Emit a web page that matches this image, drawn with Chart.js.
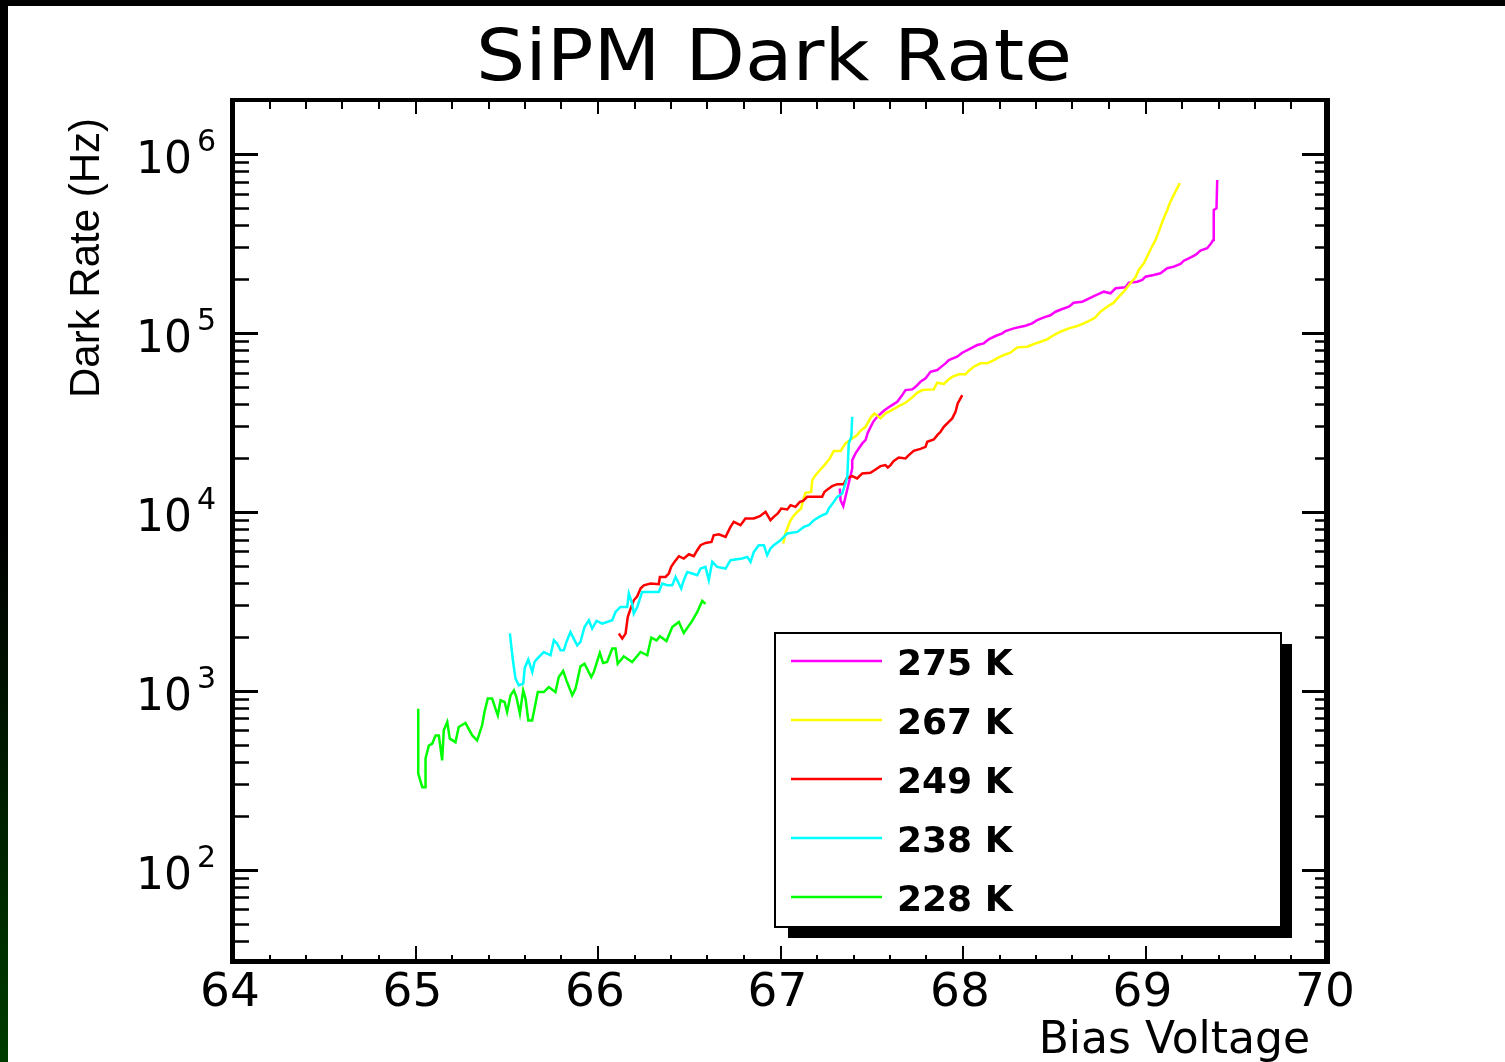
<!DOCTYPE html>
<html><head><meta charset="utf-8">
<script src="https://cdn.jsdelivr.net/npm/chart.js@4.4.1/dist/chart.umd.min.js"></script>
<style>html,body{margin:0;padding:0;background:#fff;overflow:hidden}canvas{display:block}</style>
</head><body>
<canvas id="c" width="1505" height="1062" style="width:1505px;height:1062px"></canvas>
<script>
// ---------------- data ----------------
const chartTitle = 'SiPM Dark Rate';
const xTitle = 'Bias Voltage';
const yTitle = 'Dark Rate (Hz)';
const seriesLabels = ['275 K', '267 K', '249 K', '238 K', '228 K'];
const seriesColors = ['#ff00ff', '#ffff00', '#ff0000', '#00ffff', '#00ff00'];
const xTickValues = [64, 65, 66, 67, 68, 69, 70];
const yTickValues = [1e2, 1e3, 1e4, 1e5, 1e6];
const xMin = 64, xMax = 70, yMin = 30.5, yMax = 2.0e6;

const v275 = [67.325,67.329,67.344,67.393,67.393,67.411,67.429,67.448,67.466,67.478,67.508,67.530,67.566,67.603,67.640,67.667,67.685,67.722,67.740,67.767,67.795,67.822,67.859,67.877,67.904,67.922,67.968,67.996,68.032,68.078,68.114,68.141,68.178,68.215,68.233,68.278,68.342,68.379,68.407,68.443,68.479,68.507,68.544,68.580,68.607,68.653,68.681,68.717,68.772,68.808,68.836,68.890,68.909,68.955,68.982,69.000,69.045,69.082,69.119,69.155,69.192,69.210,69.237,69.274,69.301,69.338,69.360,69.371,69.374,69.389,69.393];
const r275 = [13500,11610,10750,17470,19430,21190,22590,24100,25150,27620,31830,33950,36680,38960,41180,44890,47870,48310,49940,53280,55660,60600,61940,64140,67520,70460,73510,77400,80840,85460,87350,91980,95990,99360,102300,105960,109600,113000,117900,122100,125300,131200,135900,140000,147400,149300,154000,160600,169800,166300,177400,179700,190600,193100,197400,206000,210500,215200,229600,234300,242600,253100,261000,272300,287900,296900,316700,330400,486200,496900,715200];

const v267 = [67.015,67.027,67.051,67.070,67.092,67.113,67.124,67.137,67.168,67.174,67.192,67.219,67.241,67.270,67.292,67.329,67.356,67.393,67.420,67.438,67.466,67.497,67.515,67.548,67.575,67.603,67.648,67.685,67.722,67.749,67.777,67.840,67.859,67.895,67.913,67.941,67.977,68.014,68.032,68.059,68.096,68.133,68.169,68.196,68.224,68.260,68.297,68.352,68.388,68.425,68.461,68.498,68.534,68.580,68.626,68.662,68.699,68.726,68.753,68.790,68.826,68.854,68.881,68.909,68.945,68.963,68.991,69.013,69.031,69.055,69.073,69.086,69.100,69.119,69.137,69.155,69.174,69.188];
const r267 = [6648,7560,8782,9450,9989,10430,11610,12760,12920,15030,16020,17240,18230,19870,21830,21830,24100,25700,26820,28350,29840,33950,35470,33250,35470,36680,38960,40650,43580,46240,47870,48310,52600,51730,53970,56830,58610,58610,61380,64630,67520,67520,70460,72950,75150,77400,82960,83610,86570,89180,91980,97200,101400,105960,109200,113000,117900,122100,131200,140000,147400,159200,169800,185100,204400,224500,244700,272300,296900,330400,367700,400700,436900,486200,541000,589800,643000,685700];

const v249 = [66.114,66.133,66.151,66.163,66.182,66.196,66.215,66.233,66.251,66.288,66.333,66.339,66.370,66.388,66.401,66.419,66.443,66.470,66.498,66.525,66.544,66.562,66.589,66.622,66.634,66.662,66.699,66.726,66.744,66.781,66.808,66.854,66.887,66.918,66.945,66.963,66.985,67.004,67.037,67.055,67.082,67.106,67.124,67.146,67.228,67.241,67.265,67.283,67.311,67.347,67.362,67.393,67.420,67.448,67.493,67.521,67.548,67.575,67.588,67.603,67.621,67.648,67.685,67.703,67.730,67.767,67.795,67.804,67.840,67.859,67.877,67.895,67.922,67.941,67.959,67.971,67.996];
const r249 = [2087,1956,2087,2584,2939,3203,3373,3724,3886,3972,3937,4324,4324,4518,4919,5246,5645,5481,5793,5645,6100,6505,6701,6787,7397,7493,7238,8233,8784,8415,9173,9173,9450,9989,8975,9365,9784,10430,10300,10890,10650,11360,11510,12120,12120,12920,13500,13910,14270,14270,15360,15820,15360,16380,16500,17240,17990,18230,17690,18230,19260,20120,19870,20730,21910,22480,23070,24600,25370,26820,27990,29840,31830,33250,36220,40350,44890];

const v238 = [65.517,65.535,65.548,65.566,65.590,65.599,65.618,65.640,65.652,65.667,65.703,65.740,65.758,65.776,65.795,65.813,65.827,65.849,65.867,65.886,65.904,65.926,65.950,65.968,65.992,66.023,66.078,66.096,66.123,66.160,66.169,66.187,66.196,66.215,66.233,66.242,66.333,66.352,66.379,66.407,66.425,66.443,66.456,66.470,66.489,66.516,66.544,66.562,66.589,66.607,66.626,66.653,66.699,66.726,66.790,66.818,66.836,66.854,66.881,66.909,66.927,66.945,66.963,67.000,67.018,67.037,67.092,67.128,67.155,67.183,67.219,67.252,67.265,67.292,67.311,67.338,67.356,67.366,67.374,67.388,67.393];
const r238 = [2090,1447,1169,1072,1096,1346,1492,1272,1447,1512,1646,1578,1913,1834,1683,1683,1873,2130,1956,1795,1873,2272,2476,2225,2454,2373,2476,2755,2939,2939,3493,3070,2699,2939,3343,3565,3565,3972,3886,3886,4324,3972,3725,4145,4613,4519,4420,4819,4919,4145,5246,4919,4819,5362,5481,5595,5246,5967,6505,6505,5719,6233,6505,6937,7238,7562,7719,8233,8415,8975,9450,9784,10430,11360,12120,12660,14400,15680,24100,26240,33950];

const v228 = [65.015,65.015,65.037,65.055,65.055,65.073,65.092,65.110,65.128,65.146,65.155,65.174,65.188,65.219,65.237,65.274,65.311,65.338,65.365,65.378,65.396,65.420,65.438,65.451,65.466,65.488,65.502,65.521,65.539,65.553,65.572,65.590,65.603,65.618,65.639,65.652,65.670,65.703,65.730,65.767,65.785,65.809,65.827,65.859,65.877,65.904,65.926,65.963,65.977,66.010,66.028,66.050,66.078,66.096,66.108,66.141,66.187,66.233,66.270,66.292,66.321,66.339,66.375,66.407,66.443,66.470,66.516,66.544,66.571,66.589];
const r228 = [794,344,289,289,419,494,507,563,563,408,601,669,540,516,627,660,563,528,641,761,904,904,794,729,884,865,761,944,1005,922,745,1005,904,683,683,794,983,983,1049,983,1193,1290,1143,944,1027,1369,1416,1193,1272,1627,1430,1447,1720,1720,1416,1557,1447,1647,1578,1982,1911,2015,1895,2272,2424,2104,2455,2757,3176,3058];

const seriesV = [v275, v267, v249, v238, v228];
const seriesR = [r275, r267, r249, r238, r228];

// ---------------- chart ----------------
const FONT = '"DejaVu Sans", "Liberation Sans", sans-serif';

const datasets = seriesLabels.map((lab, i) => ({
  label: lab,
  data: seriesV[i].map((v, j) => ({x: v, y: seriesR[i][j]})),
  borderColor: seriesColors[i],
  backgroundColor: seriesColors[i],
  borderWidth: 2.5,
  pointRadius: 0,
  tension: 0,
  fill: false,
  order: seriesLabels.length - 1 - i
}));

const rootFrame = {
  id: 'rootFrame',
  beforeDraw(chart) {
    const ctx = chart.ctx;
    ctx.save();
    ctx.fillStyle = '#fff';
    ctx.fillRect(0, 0, chart.width, chart.height);
    ctx.fillStyle = '#000';
    ctx.fillRect(0, 0, chart.width, 6);
    const g = ctx.createLinearGradient(0, 0, 0, chart.height);
    g.addColorStop(0, '#000');
    g.addColorStop(0.5, '#000');
    g.addColorStop(1, '#003c00');
    ctx.fillStyle = g;
    ctx.fillRect(0, 0, 8, chart.height);
    // main title, slightly widened like the reference
    ctx.fillStyle = '#000';
    ctx.font = '72px ' + FONT;
    ctx.textAlign = 'center';
    ctx.textBaseline = 'alphabetic';
    const w = ctx.measureText(chartTitle).width;
    const sx = 596 / w;
    ctx.translate(774, 80);
    ctx.scale(sx, 1);
    ctx.fillText(chartTitle, 0, 0);
    ctx.restore();
  },
  afterDatasetsDraw(chart) {
    const ctx = chart.ctx;
    const ca = chart.chartArea;
    const xs = chart.scales.x, ys = chart.scales.y;
    ctx.save();
    ctx.fillStyle = '#000';
    ctx.strokeStyle = '#000';
    // frame
    ctx.fillRect(ca.left - 3, ca.top - 2, ca.right - ca.left + 5, 4);       // top
    ctx.fillRect(ca.left - 3, ca.top - 2, 5, ca.bottom - ca.top + 4);       // left
    ctx.fillRect(ca.right - 4, ca.top - 2, 6, ca.bottom - ca.top + 4);      // right
    ctx.fillRect(ca.left - 3, ca.bottom - 3, ca.right - ca.left + 5, 5);    // bottom
    // x ticks (every 0.2, major at integers)
    ctx.lineWidth = 2;
    for (let k = 0; k <= 30; k++) {
      const v = xMin + k * 0.2;
      const px = Math.round(xs.getPixelForValue(v));
      const major = (k % 5 === 0);
      ctx.beginPath();
      ctx.moveTo(px, ca.bottom);
      ctx.lineTo(px, ca.bottom - (major ? 16 : 7));
      ctx.moveTo(px, ca.top);
      ctx.lineTo(px, ca.top + (major ? 14 : 9));
      ctx.stroke();
    }
    // y ticks (log minor)
    for (let d = 1; d <= 6; d++) {
      for (let m = 1; m <= 9; m++) {
        const v = m * Math.pow(10, d);
        if (v < yMin || v > yMax) continue;
        const py = Math.round(ys.getPixelForValue(v)) + 0.5;
        const major = (m === 1);
        ctx.lineWidth = major ? 3 : 2.5;
        ctx.beginPath();
        ctx.moveTo(ca.left, py);
        ctx.lineTo(ca.left + (major ? 25 : 16), py);
        ctx.moveTo(ca.right, py);
        ctx.lineTo(ca.right - (major ? 26 : 13), py);
        ctx.stroke();
      }
    }
    // exponents of y tick labels
    ctx.font = '30px ' + FONT;
    ctx.textAlign = 'left';
    ctx.textBaseline = 'alphabetic';
    yTickValues.forEach(v => {
      const py = ys.getPixelForValue(v);
      ctx.fillText(String(Math.round(Math.log10(v))), ca.left - 36, py - 3);
    });
    // axis titles
    ctx.font = '44px ' + FONT;
    ctx.textAlign = 'right';
    ctx.fillText(xTitle, 1310, 1053);
    ctx.save();
    ctx.translate(99, 118);
    ctx.rotate(-Math.PI / 2);
    ctx.font = '42px "Liberation Sans", Arial, sans-serif';
    ctx.textAlign = 'right';
    ctx.fillText(yTitle, 0, 0);
    ctx.restore();
    ctx.restore();
  },
  afterDraw(chart) {
    const ctx = chart.ctx;
    const bx = 774, by = 632, bw = 508, bh = 296;
    ctx.save();
    ctx.fillStyle = '#000';
    ctx.fillRect(bx + 14, by + 12, bw - 4, bh - 2);
    ctx.fillStyle = '#fff';
    ctx.fillRect(bx, by, bw, bh);
    ctx.strokeStyle = '#000';
    ctx.lineWidth = 2;
    ctx.strokeRect(bx + 1, by + 1, bw - 2, bh - 2);
    ctx.font = 'bold 36px ' + FONT;
    ctx.textAlign = 'left';
    ctx.textBaseline = 'alphabetic';
    chart.data.datasets.forEach((ds, i) => {
      const ly = by + 29 + i * 59;
      ctx.strokeStyle = ds.borderColor;
      ctx.lineWidth = 2.5;
      ctx.beginPath();
      ctx.moveTo(791, ly);
      ctx.lineTo(882, ly);
      ctx.stroke();
      ctx.fillStyle = '#000';
      ctx.fillText(ds.label, 897, ly + 14);
    });
    ctx.restore();
  }
};

new Chart(document.getElementById('c'), {
  type: 'line',
  data: {datasets},
  options: {
    responsive: false,
    animation: false,
    devicePixelRatio: 1,
    parsing: true,
    layout: {padding: {top: 100, left: 0, right: 177, bottom: 0}},
    plugins: {
      legend: {display: false},
      tooltip: {enabled: false},
      title: {display: false, text: chartTitle}
    },
    scales: {
      x: {
        type: 'linear',
        min: xMin, max: xMax,
        grid: {display: false, drawTicks: false},
        border: {display: false},
        afterBuildTicks: s => { s.ticks = xTickValues.map(v => ({value: v})); },
        afterFit: s => { s.height = 100; },
        ticks: {
          autoSkip: false, maxRotation: 0, padding: 4, labelOffset: -3,
          color: '#000',
          font: {family: FONT, size: 47, lineHeight: 1.2},
          callback: v => String(v)
        }
      },
      y: {
        type: 'logarithmic',
        min: yMin, max: yMax,
        grid: {display: false, drawTicks: false},
        border: {display: false},
        afterBuildTicks: s => { s.ticks = yTickValues.map(v => ({value: v})); },
        afterFit: s => { s.width = 233; },
        ticks: {
          autoSkip: false, padding: 41, labelOffset: 8,
          color: '#000',
          font: {family: FONT, size: 44, lineHeight: 1.2},
          callback: () => '10'
        }
      }
    }
  },
  plugins: [rootFrame]
});
</script>
</body></html>
